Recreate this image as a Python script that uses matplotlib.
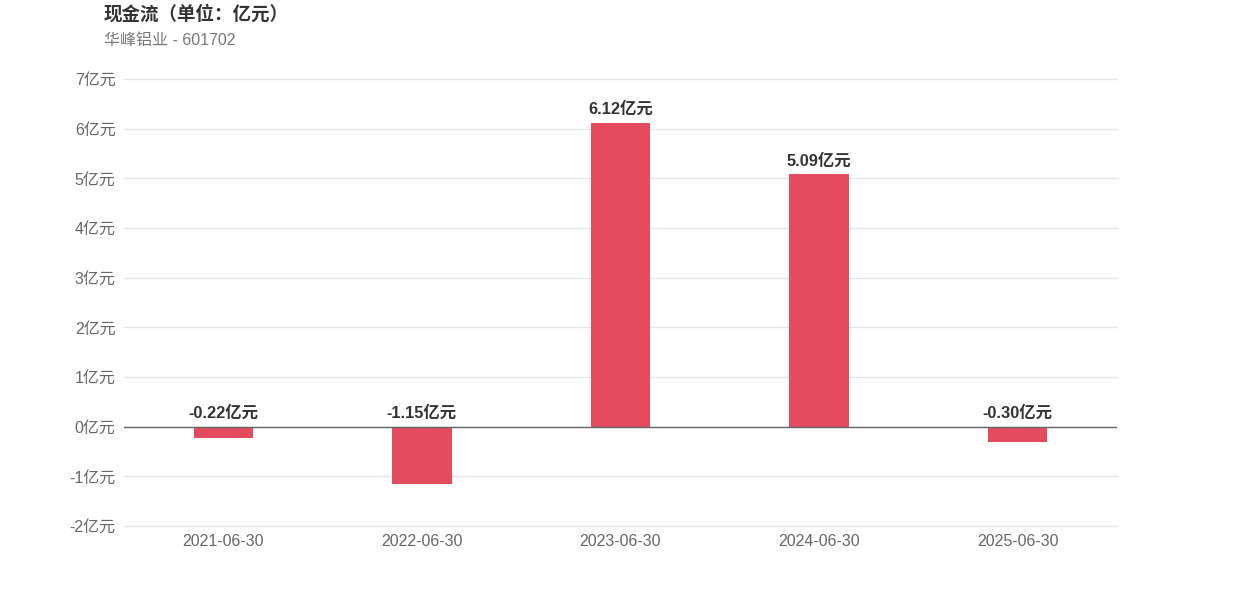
import matplotlib
matplotlib.use("Agg")
import matplotlib.pyplot as plt

categories = ["2021-06-30", "2022-06-30", "2023-06-30", "2024-06-30", "2025-06-30"]
values = [-0.22, -1.15, 6.12, 5.09, -0.30]
labels = ["-0.22亿元", "-1.15亿元", "6.12亿元", "5.09亿元", "-0.30亿元"]
yticks = [-2, -1, 0, 1, 2, 3, 4, 5, 6, 7]
ytick_labels = [f"{v}亿元" for v in yticks]
title = "现金流（单位：亿元）"
subtitle = "华峰铝业 - 601702"

FONT = ["Liberation Sans", "Noto Sans CJK SC", "DejaVu Sans"]
plt.rcParams["font.family"] = FONT

fig = plt.figure(figsize=(12.42, 5.96), dpi=100)
ax = fig.add_axes([124/1242, 1-526/596, (1117-124)/1242, (526-79)/596])

x = list(range(len(categories)))
ax.bar(x, values, width=0.30, color="#e54b5f", zorder=3)
ax.set_xlim(-0.5, len(categories)-0.5)
ax.set_ylim(-2, 7)
ax.set_yticks(yticks)
ax.set_yticklabels(ytick_labels)
ax.set_xticks(x)
ax.set_xticklabels(categories)
ax.grid(axis="y", color="#e3e6ec", linewidth=1, zorder=0)
for gl in ax.get_ygridlines():
    gl.set_clip_on(False)
ax.axhline(0, color="#666666", linewidth=1, zorder=4)
for s in ax.spines.values():
    s.set_visible(False)
ax.tick_params(axis="both", length=0, labelsize=11.5, labelcolor="#666666")
ax.tick_params(axis="x", pad=6)
ax.tick_params(axis="y", pad=6)

for xi, v, lab in zip(x, values, labels):
    top = max(v, 0)
    ax.annotate(lab, (xi, top), xytext=(0, 4), textcoords="offset points",
                ha="center", va="bottom", fontsize=11.8, fontweight="bold", color="#333333")

fig.text(104/1242, 1-14/596, title, ha="left", va="center", fontsize=13.3,
         fontweight="bold", color="#333333", family=["Noto Sans CJK SC", "DejaVu Sans"])
fig.text(104/1242, 1-40/596, subtitle, ha="left", va="center", fontsize=11.5,
         color="#777777")

fig.savefig("out.png", dpi=100)
